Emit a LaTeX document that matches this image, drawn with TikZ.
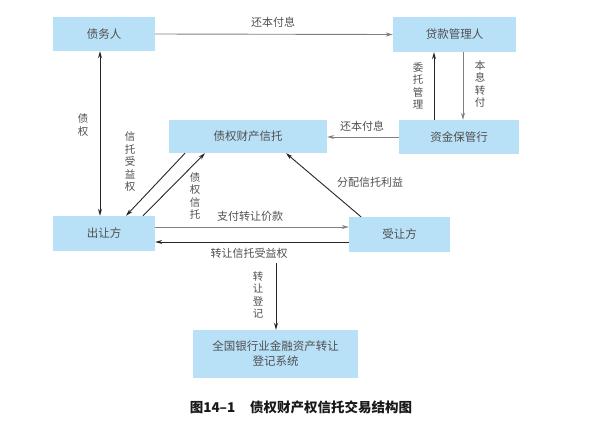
\documentclass[tikz,border=0pt]{standalone}
\usepackage{fontspec}
\setmainfont{Noto Sans CJK SC}
\usepackage{xcolor}
\usetikzlibrary{arrows.meta,positioning,calc}

\definecolor{boxblue}{RGB}{184,224,246}
\definecolor{boxtext}{RGB}{80,80,80}

\begin{document}
\begin{tikzpicture}[x=1pt, y=-1pt,
    party/.style={fill=boxblue, minimum width=102pt, minimum height=34pt,
                  align=center, text=boxtext, font={\fontsize{11.5}{15}\selectfont}, inner sep=2pt},
    lbl/.style={text=boxtext, font={\fontsize{11}{13}\selectfont}, inner sep=1pt},
    vlbl/.style={lbl, align=center, font={\fontsize{10.5}{12.5}\selectfont}},
    arr/.style={-{Stealth[length=7pt,width=4pt]}, line width=0.9pt, draw=black!85},
    grayarr/.style={arr, draw=black!50},
    dblarr/.style={{Stealth[length=7pt,width=4pt]}-{Stealth[length=7pt,width=4pt]}, line width=0.9pt, draw=black!85}
  ]
  \fill[white] (0,0) rectangle (594,424);
  \useasboundingbox (0,0) rectangle (594,424);

  % parties
  \node[party] (debtor) at (104,34) {债务人};
  \node[party, minimum width=123pt, minimum height=35pt] (servicer) at (454.5,34.5) {贷款管理人};
  \node[party, minimum width=158pt, minimum height=33pt] (trust) at (248,136.5) {债权财产信托};
  \node[party, minimum width=120pt] (custodian) at (459,137) {资金保管行};
  \node[party, minimum height=35pt] (seller) at (104,233.5) {出让方};
  \node[party, minimum width=101pt, minimum height=35pt] (buyer) at (399.5,234.5) {受让方};
  \node[party, minimum width=165pt, minimum height=48pt] (registry) at (275.5,354)
       {全国银行业金融资产转让\\登记系统};

  % flows
  \draw[grayarr] (debtor.east) -- (servicer.west);
  \draw[dblarr] ([xshift=-4pt]debtor.south) -- ([xshift=-4pt]seller.north);
  \draw[arr] ([xshift=-25pt]custodian.north) -- ([xshift=-25pt]custodian.north |- servicer.south);
  \draw[grayarr] ([xshift=4pt]custodian.north |- servicer.south) -- ([xshift=4pt]custodian.north);
  \draw[grayarr] (custodian.west) -- (custodian.west -| trust.east);
  \draw[arr] ([xshift=-63pt]trust.south) -- ([xshift=22pt]seller.north);
  \draw[arr] ([xshift=39pt]seller.north) -- ([xshift=-43pt]trust.south);
  \draw[arr] ([xshift=-38.5pt]buyer.north) -- ([xshift=38pt]trust.south);
  \draw[grayarr] ([yshift=6.5pt]seller.east) -- ([yshift=6.5pt]seller.east -| buyer.west);
  \draw[arr] ([yshift=-7.5pt]buyer.west) -- ([yshift=-7.5pt]buyer.west -| seller.east);
  \coordinate (regstart) at (276,263);
  \draw[arr] (regstart) -- (regstart |- registry.north);

  % labels
  \node[lbl] (repay1) at (273,22) {还本付息};
  \node[vlbl] (claim) at (83,125) {债\\权};
  \node[vlbl] (entrust) at (418,86) {委\\托\\管\\理};
  \node[vlbl] (remit) at (480,84) {本\\息\\转\\付};
  \node[lbl] (repay2) at (362,126) {还本付息};
  \node[vlbl] (benefit) at (130,162) {信\\托\\受\\益\\权};
  \node[vlbl] (claimtrust) at (195,196) {债\\权\\信\\托};
  \node[lbl] (distrib) at (370,182) {分配信托利益};
  \node[lbl] (pay) at (250,216) {支付转让价款};
  \node[lbl] (transfer) at (249,253) {转让信托受益权};
  \node[vlbl] (register) at (258,295) {转\\让\\登\\记};

  \node[font={\fontsize{13.5}{16}\selectfont\bfseries}, text=black!90] (caption) at (301,407)
       {图14–1\hspace{1.1em}债权财产权信托交易结构图};
\end{tikzpicture}
\end{document}
